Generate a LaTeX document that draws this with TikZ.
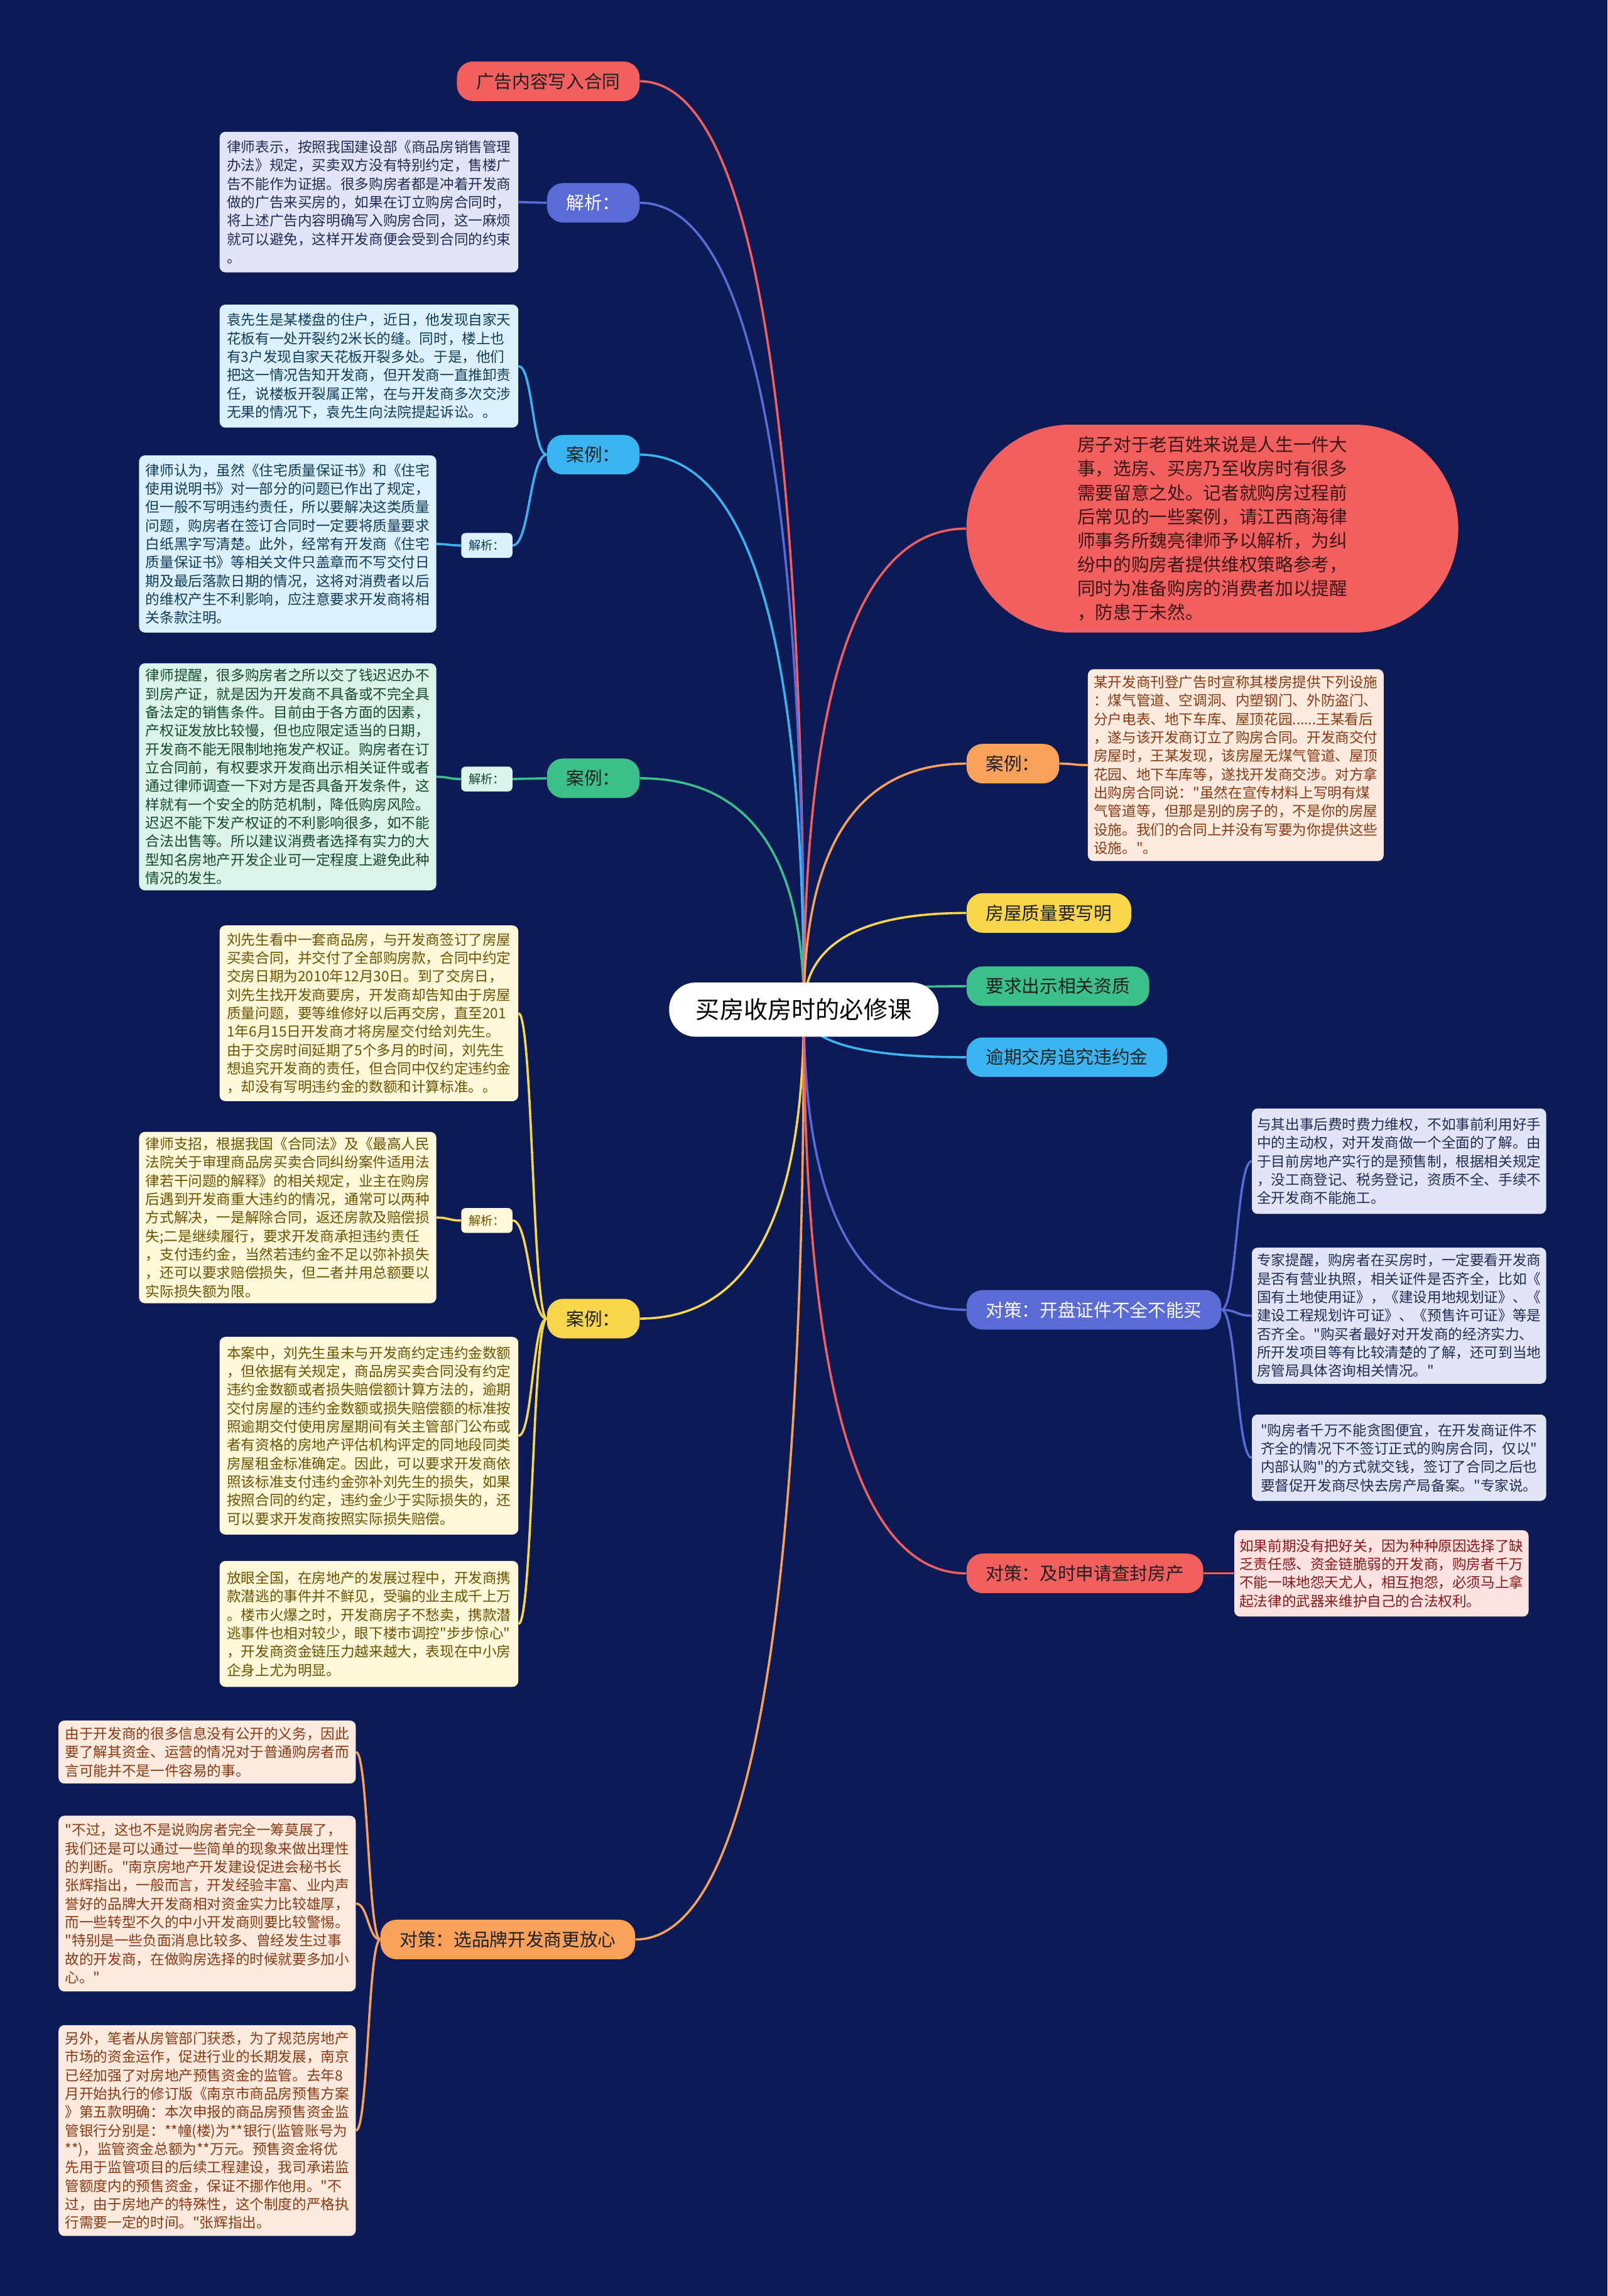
\documentclass[tikz,border=0pt]{standalone}
\usepackage{fontspec}
\setmainfont{Noto Sans CJK SC}
\newfontfamily\mmcjk{Noto Sans CJK SC}
\usetikzlibrary{calc}
\pgfdeclarelayer{bg}
\pgfsetlayers{bg,main}
\definecolor{mmbg}{HTML}{0C1B55}
\definecolor{cR}{HTML}{F25F5F}
\definecolor{cP}{HTML}{5B6BD6}
\definecolor{cC}{HTML}{3AB5F2}
\definecolor{cG}{HTML}{3BBF8B}
\definecolor{cY}{HTML}{F7D64C}
\definecolor{cO}{HTML}{F8A15A}
\definecolor{boxP}{HTML}{E2E5F8}
\definecolor{txtP}{HTML}{252A55}
\definecolor{boxC}{HTML}{DCF1FB}
\definecolor{txtC}{HTML}{0F3B5C}
\definecolor{boxG}{HTML}{DBF3E9}
\definecolor{txtG}{HTML}{16492F}
\definecolor{boxY}{HTML}{FFF8DA}
\definecolor{txtY}{HTML}{6B5300}
\definecolor{boxO}{HTML}{FDEADF}
\definecolor{txtO}{HTML}{8A3A12}
\definecolor{boxR}{HTML}{FDE2E2}
\definecolor{txtR}{HTML}{8C1818}
\definecolor{pilltxt}{HTML}{3A1515}

\newcommand\mmbox[7]{%
  \pgfmathsetmacro\mmcx{(#3+#5)/2}%
  \pgfmathsetmacro\mmcy{(#4+#6)/2}%
  \pgfmathsetmacro\mmw{(#5-#3)*0.05}%
  \pgfmathsetmacro\mmh{(#6-#4)*0.05}%
  \node[#2, minimum width=\mmw cm, minimum height=\mmh cm] (#1) at (\mmcx,\mmcy) {#7};}
\newcommand\mmmain[2]{%
  \draw[#1,mmline] (ctr.center) .. controls ($(ctr.center)!0.667!(ctr.center |- #2)$) and ($(#2)!0.667!(ctr.center |- #2)$) .. (#2);}
\newcommand\mmchild[3]{%
  \path ($(#2)!0.5!(#3)$) coordinate (mmmid);
  \draw[#1,mmline] (#2) .. controls (mmmid |- #2) and (mmmid |- #3) .. (#3);}

\begin{document}
\begin{tikzpicture}[x=0.05cm,y=-0.05cm,
  mmline/.style={line width=2.2pt},
  br/.style={rounded corners=0.55cm, minimum height=1.35cm, inner xsep=0.66cm, inner ysep=0pt, text=black!88, font=\mmcjk\fontsize{17.5}{20}\selectfont},
  tbox/.style={rounded corners=0.2cm, align=left, inner xsep=0.1cm, inner ysep=0.1cm, font=\mmcjk\fontsize{13.8}{17.9}\selectfont},
  tP/.style={tbox, fill=boxP, text=txtP},
  tC/.style={tbox, fill=boxC, text=txtC},
  tG/.style={tbox, fill=boxG, text=txtG},
  tY/.style={tbox, fill=boxY, text=txtY},
  tO/.style={tbox, fill=boxO, text=txtO},
  tR/.style={tbox, fill=boxR, text=txtR},
  lbl/.style={rounded corners=0.15cm, minimum width=1.75cm, minimum height=0.85cm, inner sep=0pt, font=\mmcjk\fontsize{11.8}{13}\selectfont}
]
% center
\node[fill=white, rounded corners=0.9cm, minimum width=9.2cm, minimum height=1.85cm, text=black, font=\mmcjk\fontsize{23.3}{26}\selectfont] (ctr) at (549,689.5) {买房收房时的必修课};

% left branches
\node[br, fill=cR, anchor=east] (bA) at (437,55.5) {广告内容写入合同};
\node[br, fill=cP, text=white, anchor=east] (bP) at (437,138.5) {解析：};
\node[br, fill=cC, anchor=east] (bC) at (437,310.5) {案例：};
\node[br, fill=cG, anchor=east] (bG) at (437,531.5) {案例：};
\node[br, fill=cY, anchor=east] (bY) at (437,900.5) {案例：};
\node[br, fill=cO, anchor=east] (bO) at (434,1324.5) {对策：选品牌开发商更放心};

% right branches
\node[fill=cR, rounded corners=3.55cm, minimum width=16.8cm, minimum height=7.1cm, align=left, text=pilltxt, font=\mmcjk\fontsize{17.5}{23.2}\selectfont] (pl) at (828,361) {房子对于老百姓来说是人生一件大\\事，选房、买房乃至收房时有很多\\需要留意之处。记者就购房过程前\\后常见的一些案例，请江西商海律\\师事务所魏亮律师予以解析，为纠\\纷中的购房者提供维权策略参考，\\同时为准备购房的消费者加以提醒\\，防患于未然。};
\node[br, fill=cO, anchor=west] (rO) at (660,521.5) {案例：};
\node[br, fill=cY, anchor=west] (rY) at (660,623.5) {房屋质量要写明};
\node[br, fill=cG, anchor=west] (rG) at (660,673.5) {要求出示相关资质};
\node[br, fill=cC, anchor=west] (rC) at (660,722) {逾期交房追究违约金};
\node[br, fill=cP, text=white, anchor=west] (rP) at (660,894.5) {对策：开盘证件不全不能买};
\node[br, fill=cR, anchor=west] (rR) at (660,1074.5) {对策：及时申请查封房产};

% labels
\node[lbl, fill=boxC, text=txtC] (lC) at (332.5,372.5) {解析：};
\node[lbl, fill=boxG, text=txtG] (lG) at (332.5,532) {解析：};
\node[lbl, fill=boxY, text=txtY] (lY) at (332.5,833.5) {解析：};

% text boxes left
\mmbox{xA}{tP}{150}{90}{354}{186}{律师表示，按照我国建设部《商品房销售管理\\办法》规定，买卖双方没有特别约定，售楼广\\告不能作为证据。很多购房者都是冲着开发商\\做的广告来买房的，如果在订立购房合同时，\\将上述广告内容明确写入购房合同，这一麻烦\\就可以避免，这样开发商便会受到合同的约束\\。}
\mmbox{xB}{tC}{150}{208}{354}{292}{袁先生是某楼盘的住户，近日，他发现自家天\\花板有一处开裂约2米长的缝。同时，楼上也\\有3户发现自家天花板开裂多处。于是，他们\\把这一情况告知开发商，但开发商一直推卸责\\任，说楼板开裂属正常，在与开发商多次交涉\\无果的情况下，袁先生向法院提起诉讼。。}
\mmbox{xC}{tC}{95}{311}{298}{432}{律师认为，虽然《住宅质量保证书》和《住宅\\使用说明书》对一部分的问题已作出了规定，\\但一般不写明违约责任，所以要解决这类质量\\问题，购房者在签订合同时一定要将质量要求\\白纸黑字写清楚。此外，经常有开发商《住宅\\质量保证书》等相关文件只盖章而不写交付日\\期及最后落款日期的情况，这将对消费者以后\\的维权产生不利影响，应注意要求开发商将相\\关条款注明。}
\mmbox{xD}{tG}{95}{453}{298}{608}{律师提醒，很多购房者之所以交了钱迟迟办不\\到房产证，就是因为开发商不具备或不完全具\\备法定的销售条件。目前由于各方面的因素，\\产权证发放比较慢，但也应限定适当的日期，\\开发商不能无限制地拖发产权证。购房者在订\\立合同前，有权要求开发商出示相关证件或者\\通过律师调查一下对方是否具备开发条件，这\\样就有一个安全的防范机制，降低购房风险。\\迟迟不能下发产权证的不利影响很多，如不能\\合法出售等。所以建议消费者选择有实力的大\\型知名房地产开发企业可一定程度上避免此种\\情况的发生。}
\mmbox{xE}{tY}{150}{632}{354}{752}{刘先生看中一套商品房，与开发商签订了房屋\\买卖合同，并交付了全部购房款，合同中约定\\交房日期为2010年12月30日。到了交房日，\\刘先生找开发商要房，开发商却告知由于房屋\\质量问题，要等维修好以后再交房，直至201\\1年6月15日开发商才将房屋交付给刘先生。\\由于交房时间延期了5个多月的时间，刘先生\\想追究开发商的责任，但合同中仅约定违约金\\，却没有写明违约金的数额和计算标准。。}
\mmbox{xF}{tY}{95}{773}{298}{890}{律师支招，根据我国《合同法》及《最高人民\\法院关于审理商品房买卖合同纠纷案件适用法\\律若干问题的解释》的相关规定，业主在购房\\后遇到开发商重大违约的情况，通常可以两种\\方式解决，一是解除合同，返还房款及赔偿损\\失;二是继续履行，要求开发商承担违约责任\\，支付违约金，当然若违约金不足以弥补损失\\，还可以要求赔偿损失，但二者并用总额要以\\实际损失额为限。}
\mmbox{xG}{tY}{150}{913}{354}{1048}{本案中，刘先生虽未与开发商约定违约金数额\\，但依据有关规定，商品房买卖合同没有约定\\违约金数额或者损失赔偿额计算方法的，逾期\\交付房屋的违约金数额或损失赔偿额的标准按\\照逾期交付使用房屋期间有关主管部门公布或\\者有资格的房地产评估机构评定的同地段同类\\房屋租金标准确定。因此，可以要求开发商依\\照该标准支付违约金弥补刘先生的损失，如果\\按照合同的约定，违约金少于实际损失的，还\\可以要求开发商按照实际损失赔偿。}
\mmbox{xH}{tY}{150}{1066}{354}{1152}{放眼全国，在房地产的发展过程中，开发商携\\款潜逃的事件并不鲜见，受骗的业主成千上万\\。楼市火爆之时，开发商房子不愁卖，携款潜\\逃事件也相对较少，眼下楼市调控"步步惊心"\\，开发商资金链压力越来越大，表现在中小房\\企身上尤为明显。}
\mmbox{xI}{tO}{40}{1175}{243}{1218}{由于开发商的很多信息没有公开的义务，因此\\要了解其资金、运营的情况对于普通购房者而\\言可能并不是一件容易的事。}
\mmbox{xJ}{tO}{40}{1240}{243}{1360}{"不过，这也不是说购房者完全一筹莫展了，\\我们还是可以通过一些简单的现象来做出理性\\的判断。"南京房地产开发建设促进会秘书长\\张辉指出，一般而言，开发经验丰富、业内声\\誉好的品牌大开发商相对资金实力比较雄厚，\\而一些转型不久的中小开发商则要比较警惕。\\"特别是一些负面消息比较多、曾经发生过事\\故的开发商，在做购房选择的时候就要多加小\\心。"}
\mmbox{xK}{tO}{40}{1383}{243}{1527}{另外，笔者从房管部门获悉，为了规范房地产\\市场的资金运作，促进行业的长期发展，南京\\已经加强了对房地产预售资金的监管。去年8\\月开始执行的修订版《南京市商品房预售方案\\》第五款明确：本次申报的商品房预售资金监\\管银行分别是：**幢(楼)为**银行(监管账号为\\**)，监管资金总额为**万元。预售资金将优\\先用于监管项目的后续工程建设，我司承诺监\\管额度内的预售资金，保证不挪作他用。"不\\过，由于房地产的特殊性，这个制度的严格执\\行需要一定的时间。"张辉指出。}

% text boxes right
\mmbox{xL}{tO}{743}{457}{945}{588}{某开发商刊登广告时宣称其楼房提供下列设施\\：煤气管道、空调洞、内塑钢门、外防盗门、\\分户电表、地下车库、屋顶花园......王某看后\\，遂与该开发商订立了购房合同。开发商交付\\房屋时，王某发现，该房屋无煤气管道、屋顶\\花园、地下车库等，遂找开发商交涉。对方拿\\出购房合同说："虽然在宣传材料上写明有煤\\气管道等，但那是别的房子的，不是你的房屋\\设施。我们的合同上并没有写要为你提供这些\\设施。"。}
\mmbox{xM}{tP}{855}{757}{1056}{829}{与其出事后费时费力维权，不如事前利用好手\\中的主动权，对开发商做一个全面的了解。由\\于目前房地产实行的是预售制，根据相关规定\\，没工商登记、税务登记，资质不全、手续不\\全开发商不能施工。}
\mmbox{xN}{tP}{855}{852}{1056}{945}{专家提醒，购房者在买房时，一定要看开发商\\是否有营业执照，相关证件是否齐全，比如《\\国有土地使用证》，《建设用地规划证》、《\\建设工程规划许可证》、《预售许可证》等是\\否齐全。"购买者最好对开发商的经济实力、\\所开发项目等有比较清楚的了解，还可到当地\\房管局具体咨询相关情况。"}
\mmbox{xO}{tP}{855}{966}{1056}{1025}{"购房者千万不能贪图便宜，在开发商证件不\\齐全的情况下不签订正式的购房合同，仅以"\\内部认购"的方式就交钱，签订了合同之后也\\要督促开发商尽快去房产局备案。"专家说。}
\mmbox{xP}{tR}{843}{1045}{1044}{1104}{如果前期没有把好关，因为种种原因选择了缺\\乏责任感、资金链脆弱的开发商，购房者千万\\不能一味地怨天尤人，相互抱怨，必须马上拿\\起法律的武器来维护自己的合法权利。}

\begin{pgfonlayer}{bg}
\fill[mmbg] (0,0) rectangle (1098,1568);
% main connectors
\mmmain{cR}{bA.east}
\mmmain{cP}{bP.east}
\mmmain{cC}{bC.east}
\mmmain{cG}{bG.east}
\mmmain{cY}{bY.east}
\mmmain{cO}{bO.east}
\mmmain{cR}{pl.west}
\mmmain{cO}{rO.west}
\mmmain{cY}{rY.west}
\mmmain{cG}{rG.west}
\mmmain{cC}{rC.west}
\mmmain{cP}{rP.west}
\mmmain{cR}{rR.west}
% child connectors
\mmchild{cP}{bP.west}{xA.east}
\mmchild{cC}{bC.west}{xB.east}
\mmchild{cC}{bC.west}{lC.east}
\mmchild{cC}{lC.west}{xC.east}
\mmchild{cG}{bG.west}{lG.east}
\mmchild{cG}{lG.west}{xD.east}
\mmchild{cY}{bY.west}{xE.east}
\mmchild{cY}{bY.west}{lY.east}
\mmchild{cY}{bY.west}{xG.east}
\mmchild{cY}{bY.west}{xH.east}
\mmchild{cY}{lY.west}{xF.east}
\mmchild{cO}{bO.west}{xI.east}
\mmchild{cO}{bO.west}{xJ.east}
\mmchild{cO}{bO.west}{xK.east}
\mmchild{cO}{rO.east}{xL.west}
\mmchild{cP}{rP.east}{xM.west}
\mmchild{cP}{rP.east}{xN.west}
\mmchild{cP}{rP.east}{xO.west}
\mmchild{cR}{rR.east}{xP.west}
\end{pgfonlayer}
\end{tikzpicture}
\end{document}
